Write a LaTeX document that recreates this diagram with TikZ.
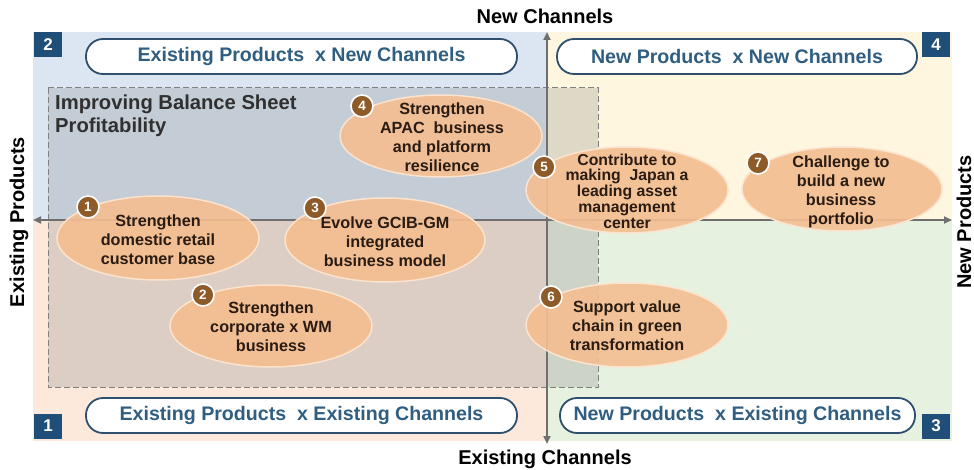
\documentclass[tikz,border=0pt]{standalone}
\usepackage{fontspec}
\setmainfont{Liberation Sans}
\usetikzlibrary{shapes.geometric,arrows.meta}
\definecolor{qblue}{HTML}{DCE6F2}
\definecolor{qyellow}{HTML}{FEF6DE}
\definecolor{qpeach}{HTML}{FCE9DC}
\definecolor{qgreen}{HTML}{E7F1DF}
\definecolor{badgeblue}{HTML}{1F4E79}
\definecolor{pillline}{HTML}{2E4F6E}
\definecolor{pilltext}{HTML}{2F5E80}
\definecolor{axisgray}{HTML}{6F6F6F}
\definecolor{ovalfill}{HTML}{F4BE92}
\definecolor{ovalline}{HTML}{FBE3CE}
\definecolor{numbrown}{HTML}{8E5A28}
\definecolor{ovaltext}{HTML}{2A1C12}
\definecolor{titletext}{HTML}{303030}
\begin{document}
\begin{tikzpicture}[x=1pt,y=-1pt,
  axisline/.style={draw=axisgray, line width=2pt, {Triangle[length=8pt,width=7pt]}-{Triangle[length=8pt,width=7pt]}},
  axislabel/.style={font=\fontsize{20}{23}\selectfont\bfseries, text=black, inner sep=0pt},
  pill/.style={draw=pillline, line width=1.8pt, fill=white, rounded corners=17pt, minimum height=35pt, inner sep=0pt,
    font=\fontsize{19.6}{23}\selectfont\bfseries, text=pilltext},
  sqbadge/.style={fill=badgeblue, text=white, minimum width=28pt, minimum height=25pt, inner sep=0pt,
    font=\fontsize{17}{20}\selectfont\bfseries},
  oval/.style={ellipse, fill=ovalfill, fill opacity=0.92, draw=ovalline, line width=1.5pt, inner sep=0pt},
  ovaltxt/.style={align=center, text=ovaltext, inner sep=0pt, font=\fontsize{16.2}{19}\selectfont\bfseries},
  numbadge/.style={circle, fill=numbrown, draw=white, line width=1.6pt, minimum size=22pt, inner sep=0pt,
    text=white, font=\fontsize{13.5}{15}\selectfont\bfseries}
]
\useasboundingbox (0,0) rectangle (974,470);
\fill[white] (0,0) rectangle (974,470);
% quadrants
\fill[qblue] (33,32) rectangle (547,220);
\fill[qyellow] (547,32) rectangle (952,220);
\fill[qpeach] (33,220) rectangle (547,441);
\fill[qgreen] (547,220) rectangle (952,441);
% dashed region
\draw[draw=gray, line width=1pt, dash pattern=on 6pt off 3pt, fill=black!50, fill opacity=0.25] (48,88) rectangle (598,387);
\node[anchor=north west, align=left, inner sep=0pt, text=titletext, font=\fontsize{20.2}{23}\selectfont\bfseries] (title) at (55,95) {Improving Balance Sheet\\Profitability};
% axes
\coordinate (vtop) at (547,32);
\coordinate (vbot) at (547,444);
\coordinate (hleft) at (33,220);
\coordinate (hright) at (952,220);
\draw[axisline] (vbot) -- (vtop);
\draw[axisline] (hleft) -- (hright);
\node[axislabel] (lnc) at (545,16) {New Channels};
\node[axislabel] (lec) at (545,459) {Existing Channels};
\node[axislabel, rotate=90] (lep) at (19,222) {Existing Products};
\node[axislabel, rotate=90] (lnp) at (964,222) {New Products};
% pills
\node[pill, minimum width=431pt] (p2) at (301.5,56.5) {Existing Products~ x New Channels};
\node[pill, minimum width=360pt] (p4) at (737,56.5) {New Products~ x New Channels};
\node[pill, minimum width=431pt] (p1) at (301.5,415.5) {Existing Products~ x Existing Channels};
\node[pill, minimum width=355pt] (p3) at (737.5,415.5) {New Products~ x Existing Channels};
% square badges
\node[sqbadge] (b2) at (48,45) {2};
\node[sqbadge] (b4) at (936,45) {4};
\node[sqbadge] (b1) at (48,426) {1};
\node[sqbadge] (b3) at (936,426) {3};
% ovals
\node[oval, minimum width=202pt, minimum height=82pt] (o4) at (441,136) {};
\node[oval, minimum width=202pt, minimum height=84pt] (o1) at (158,238) {};
\node[oval, minimum width=200pt, minimum height=84pt] (o3) at (385,240) {};
\node[oval, minimum width=202pt, minimum height=82pt] (o2) at (271,326) {};
\node[oval, minimum width=202pt, minimum height=86pt] (o5) at (627,190) {};
\node[oval, minimum width=200pt, minimum height=84pt] (o7) at (842,189) {};
\node[oval, minimum width=202pt, minimum height=84pt] (o6) at (627,325) {};
% oval texts
\node[ovaltxt] (t4) at (442,137) {Strengthen\\APAC~ business\\and platform\\resilience};
\node[ovaltxt] (t1) at (158,240) {Strengthen\\domestic retail\\customer base};
\node[ovaltxt] (t3) at (385,242) {Evolve GCIB-GM\\integrated\\business model};
\node[ovaltxt] (t2) at (271,327) {Strengthen\\corporate x WM\\business};
\node[ovaltxt, font=\fontsize{15.8}{15.8}\selectfont\bfseries] (t5) at (627,191) {Contribute to\\making~ Japan a\\leading asset\\management\\center};
\node[ovaltxt] (t7) at (841,192) {Challenge to\\build a new\\business\\portfolio};
\node[ovaltxt] (t6) at (627,326) {Support value\\chain in green\\transformation};
% number badges
\node[numbadge] (n1) at (88,207) {1};
\node[numbadge] (n2) at (203,295) {2};
\node[numbadge] (n3) at (315,208) {3};
\node[numbadge] (n4) at (362,106) {4};
\node[numbadge] (n5) at (544,167) {5};
\node[numbadge] (n6) at (551,297) {6};
\node[numbadge] (n7) at (758,163) {7};
\end{tikzpicture}
\end{document}
